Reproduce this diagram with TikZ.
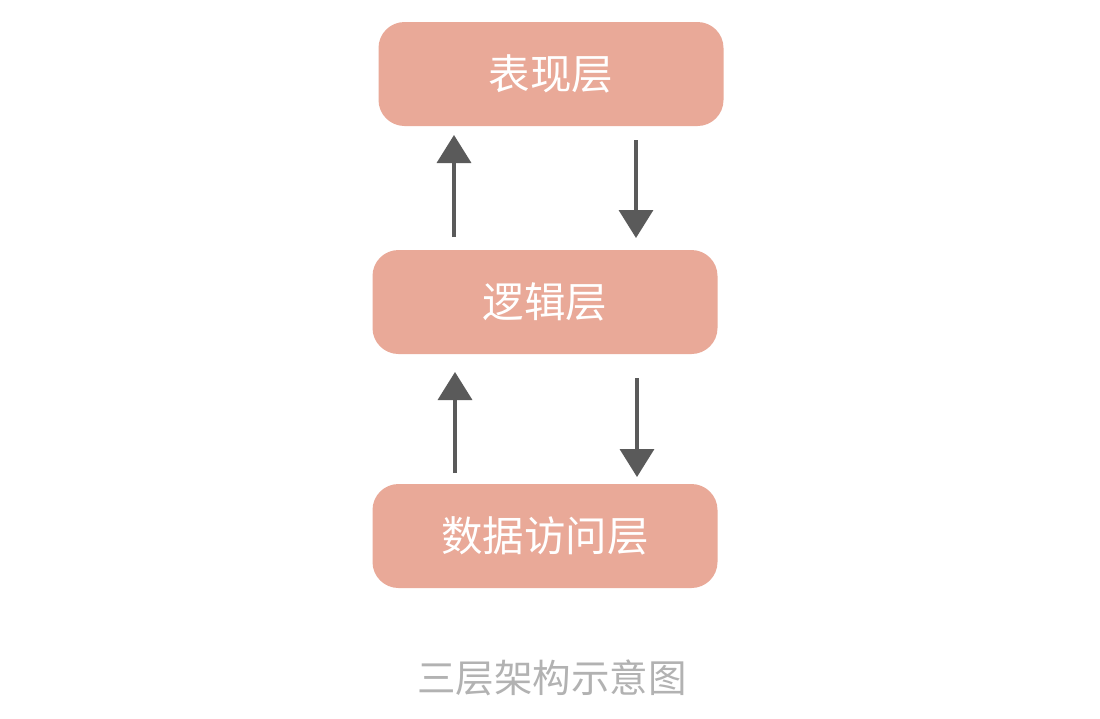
\documentclass[tikz,border=0pt]{standalone}
\usepackage{fontspec}
\newfontfamily\cjk{Noto Sans CJK SC}
\usetikzlibrary{arrows.meta}
\definecolor{boxfill}{RGB}{233,169,152}
\definecolor{arrowgray}{RGB}{90,90,90}
\definecolor{capgray}{RGB}{178,178,178}
\tikzset{
  layer/.style={draw=none, fill=boxfill, rounded corners=26pt, minimum width=345pt, minimum height=104pt, inner sep=0pt, text=white, font=\cjk\fontsize{41.5}{44}\selectfont},
  flow/.style={draw=arrowgray, line width=3.5pt, -{Triangle[width=34pt,length=28pt,fill=arrowgray]}},
}
\begin{document}
\begin{tikzpicture}[x=1pt,y=-1pt]
\useasboundingbox[fill=white] (0,0) rectangle (1100,718);
\node[layer] (pres) at (551,74) {表现层};
\node[layer] (logic) at (545,302) {逻辑层};
\node[layer] (data) at (545,536) {数据访问层};
\node[text=capgray, font=\cjk\fontsize{38.5}{40}\selectfont] (cap) at (552,678) {三层架构示意图};
\coordinate (u1s) at (454,237);
\coordinate (u1e) at (454,135);
\coordinate (d1s) at (636,140);
\coordinate (d1e) at (636,238);
\coordinate (u2s) at (455,473);
\coordinate (u2e) at (455,372);
\coordinate (d2s) at (637,378);
\coordinate (d2e) at (637,477);
\draw[flow] (u1s) -- (u1e);
\draw[flow] (d1s) -- (d1e);
\draw[flow] (u2s) -- (u2e);
\draw[flow] (d2s) -- (d2e);
\end{tikzpicture}
\end{document}
